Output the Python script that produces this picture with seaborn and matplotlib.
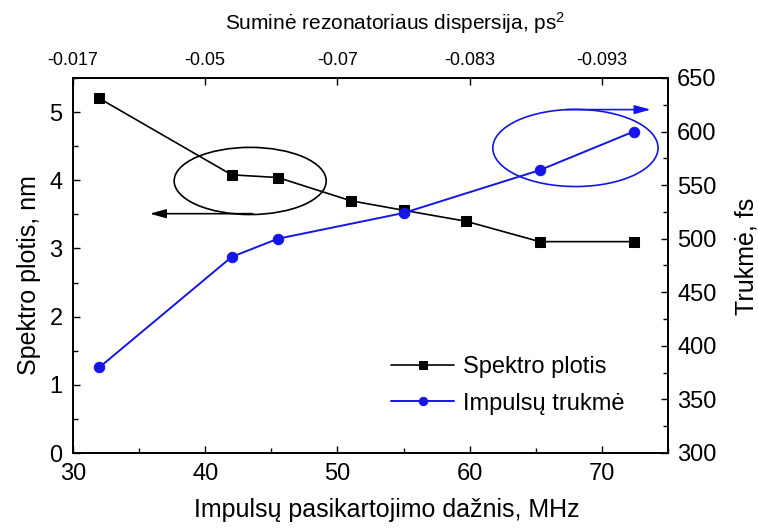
import matplotlib
matplotlib.use("Agg")
import matplotlib.pyplot as plt
import numpy as np
import pandas as pd
import seaborn as sns
from matplotlib.patches import Ellipse
from matplotlib.ticker import MultipleLocator

# Spectral width vs repetition rate
freq_spec = [32, 42, 45.5, 51, 55, 59.7, 65.3, 72.4]
spec_width = [5.2, 4.08, 4.04, 3.70, 3.56, 3.40, 3.10, 3.10]
# Pulse duration vs repetition rate
freq_dur = [32, 42, 45.5, 55, 65.3, 72.4]
duration = [380, 483, 500, 524, 564, 600]
# Total cavity dispersion shown on the top axis
disp_ticks = [30, 40, 50, 60, 70]
disp_labels = ["-0.017", "-0.05", "-0.07", "-0.083", "-0.093"]

sns.set_theme(style="ticks")
plt.rcParams["font.family"] = ["Liberation Sans", "DejaVu Sans"]
plt.rcParams["mathtext.fontset"] = "custom"
plt.rcParams["mathtext.rm"] = "Liberation Sans"
plt.rcParams["mathtext.it"] = "Liberation Sans:italic"
plt.rcParams["text.color"] = "black"
plt.rcParams["axes.labelcolor"] = "black"

BLUE = "#1515e8"

fig = plt.figure(figsize=(7.58, 5.28), dpi=100)
ax = fig.add_axes([73 / 758, 75 / 528, 595 / 758, 375 / 528])
ax2 = ax.twinx()
ax3 = ax.twiny()

df_s = pd.DataFrame({"f": freq_spec, "w": spec_width})
df_d = pd.DataFrame({"f": freq_dur, "t": duration})

sns.lineplot(data=df_s, x="f", y="w", ax=ax, color="black", marker="s",
             markersize=7, markeredgecolor="black", linewidth=1.2, legend=False)
sns.lineplot(data=df_d, x="f", y="t", ax=ax2, color=BLUE, marker="o",
             markersize=7.5, markeredgecolor=BLUE, linewidth=1.4, legend=False)

# axis limits and ticks
ax.set_xlim(30, 75)
ax.set_ylim(0, 5.5)
ax2.set_ylim(300, 650)
ax3.set_xlim(30, 75)

ax.xaxis.set_major_locator(MultipleLocator(10))
ax.xaxis.set_minor_locator(MultipleLocator(5))
ax.yaxis.set_major_locator(MultipleLocator(1))
ax.yaxis.set_minor_locator(MultipleLocator(0.5))
ax2.yaxis.set_major_locator(MultipleLocator(50))
ax2.yaxis.set_minor_locator(MultipleLocator(25))
ax3.set_xticks(disp_ticks)
ax3.set_xticklabels(disp_labels)
ax3.xaxis.set_minor_locator(plt.NullLocator())

for a in (ax, ax2, ax3):
    for s in a.spines.values():
        s.set_linewidth(1.1)
        s.set_color("black")
    a.tick_params(which="major", direction="in", length=5, width=1.0,
                  colors="black", labelcolor="black")
    a.tick_params(which="minor", direction="in", length=3.5, width=1.0, colors="black")

ax.tick_params(axis="both", which="major", labelsize=17, pad=7.5)
ax2.tick_params(axis="y", which="major", labelsize=17, pad=6.5)
ax3.tick_params(axis="x", which="major", labelsize=13, pad=6.5)

ax.set_xlabel("Impulsų pasikartojimo dažnis, MHz", fontsize=18, color="black")
ax.set_ylabel("Spektro plotis, nm", fontsize=18, color="black")
ax2.set_ylabel("Trukmė, fs", fontsize=18, color="black")
ax3.set_xlabel("Suminė rezonatoriaus dispersija, ps$^2$", fontsize=15, color="black")

ax.xaxis.set_label_coords(0.528, -0.12)
ax.yaxis.set_label_coords(-0.054, 0.475)
ax2.yaxis.set_label_coords(1.111, 0.525)
ax3.xaxis.set_label_coords(0.541, 1.128)

# ellipses and arrows pointing to the respective axis
ax.add_patch(Ellipse((43.4, 3.99), 11.5, 0.985, fill=False, edgecolor="black", linewidth=1.2))
ax.annotate("", xy=(35.8, 3.51), xytext=(43.6, 3.51),
            arrowprops=dict(arrowstyle="-|>,head_length=0.8,head_width=0.22",
                            color="black", lw=1.2, shrinkA=0, shrinkB=0))
ax2.add_patch(Ellipse((68.0, 584.7), 12.5, 72, fill=False, edgecolor=BLUE, linewidth=1.2))
ax2.annotate("", xy=(73.7, 620.5), xytext=(67.3, 620.5),
             arrowprops=dict(arrowstyle="-|>,head_length=0.8,head_width=0.22",
                             color=BLUE, lw=1.2, shrinkA=0, shrinkB=0))

# legend
handles = [ax.lines[0], ax2.lines[0]]
ax2.legend(handles, ["Spektro plotis", "Impulsų trukmė"], loc="center left",
           bbox_to_anchor=(0.534, 0.18), frameon=False, fontsize=17,
           handlelength=2.7, handletextpad=0.34, labelspacing=0.6,
           borderpad=0, borderaxespad=0, markerscale=0.8, labelcolor="black")

fig.savefig("out.png", dpi=100)
